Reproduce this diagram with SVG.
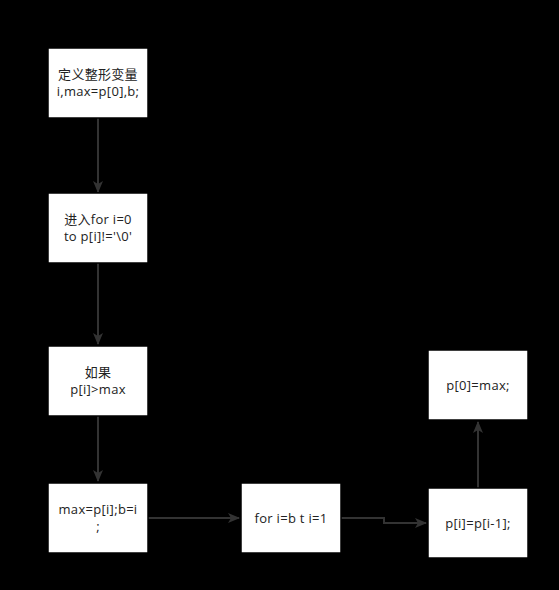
<svg xmlns="http://www.w3.org/2000/svg" width="559" height="590" viewBox="0 0 559 590">
<style>
.box{fill:#fff;stroke:#000;stroke-width:1.5}
.t{font-family:"Open Sans","Noto Sans CJK SC",sans-serif;font-size:13px;letter-spacing:0.3px;fill:#222;text-anchor:middle}
.c{fill:none;stroke:#333;stroke-width:2}
</style>
<defs>
<marker id="a" viewBox="0 0 12 10" refX="11" refY="5" markerWidth="12" markerHeight="10" markerUnits="userSpaceOnUse" orient="auto">
<path d="M0,0 L12,5 L0,10 L3,5 Z" fill="#333"/>
</marker>
</defs>
<rect width="559" height="590" fill="#000"/>
<g id="connectors">
<path class="c" d="M98,118 V192" marker-end="url(#a)"/>
<path class="c" d="M98,263 V344" marker-end="url(#a)"/>
<path class="c" d="M98,416 V481" marker-end="url(#a)"/>
<path class="c" d="M148,518 H239" marker-end="url(#a)"/>
<path class="c" d="M341,518 H384 V523 H426" marker-end="url(#a)"/>
<path class="c" d="M478,488 V422" marker-end="url(#a)"/>
</g>
<g id="n1"><rect class="box" x="48" y="48" width="100" height="70"/><text class="t" x="98" y="79">定义整形变量</text><text class="t" x="98" y="96">i,max=p[0],b;</text></g>
<g id="n2"><rect class="box" x="48" y="193" width="100" height="70"/><text class="t" x="98" y="224">进入for i=0</text><text class="t" x="98" y="241">to p[i]!='\0'</text></g>
<g id="n3"><rect class="box" x="48" y="346" width="100" height="70"/><text class="t" x="98" y="377">如果</text><text class="t" x="98" y="394">p[i]&gt;max</text></g>
<g id="n4"><rect class="box" x="48" y="483" width="100" height="70"/><text class="t" x="98" y="514">max=p[i];b=i</text><text class="t" x="98" y="531">;</text></g>
<g id="n5"><rect class="box" x="241" y="483" width="100" height="70"/><text class="t" x="291" y="523">for i=b t i=1</text></g>
<g id="n6"><rect class="box" x="428" y="488" width="100" height="70"/><text class="t" x="478" y="528">p[i]=p[i-1];</text></g>
<g id="n7"><rect class="box" x="428" y="350" width="100" height="70"/><text class="t" x="478" y="390">p[0]=max;</text></g>
</svg>
